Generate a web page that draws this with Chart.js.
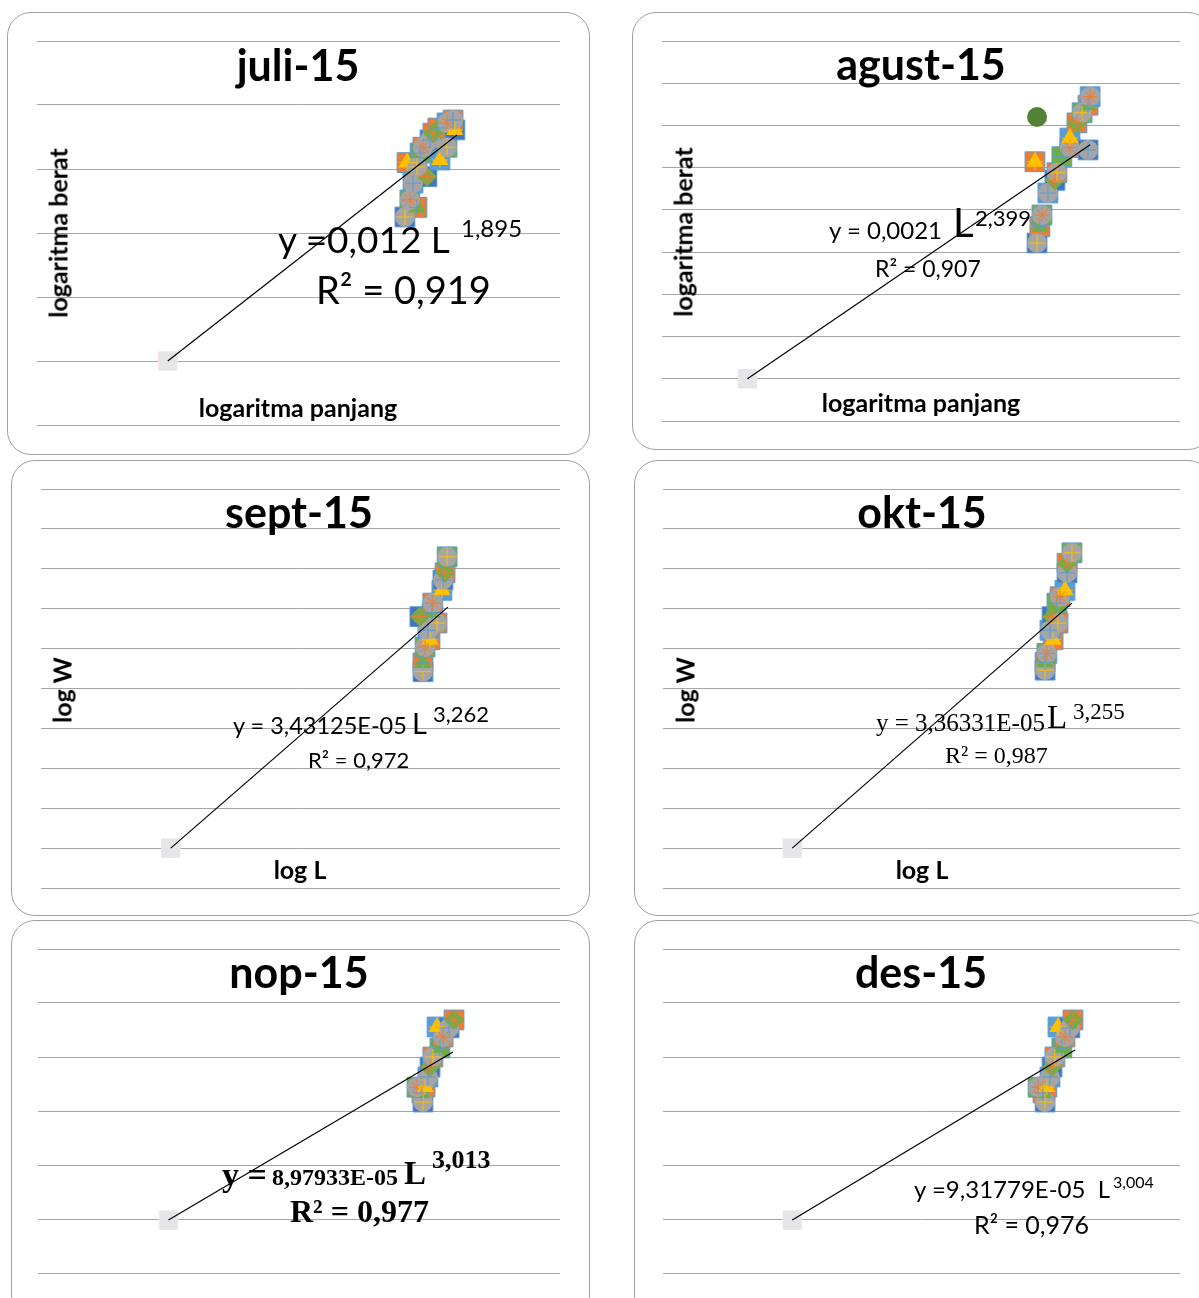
<!DOCTYPE html>
<html>
<head>
<meta charset="utf-8">
<script src="https://cdn.jsdelivr.net/npm/chart.js@4.4.1/dist/chart.umd.min.js"></script>
<style>
body { margin:0; background:#fff; width:1199px; height:1298px; overflow:hidden; position:relative; font-family:Lato, "Open Sans", sans-serif; }
.box { position:absolute; border:1.5px solid #a0a0a0; border-radius:24px; box-sizing:border-box; }
canvas { position:absolute; }
.t { position:absolute; white-space:nowrap; line-height:1; color:#000; }
.c { transform:translate(-50%,-50%); }
.v { transform:translate(-50%,-50%) rotate(-90deg); }
.l { transform:translate(0,-50%); }
.ttl { font-weight:700; font-size:43px; }
.ax { font-weight:700; font-size:25px; }
.sf { font-family:"Liberation Serif", "DejaVu Serif", serif; }
</style>
</head>
<body>
<div class="box" style="left:7px;top:12px;width:583px;height:443px"></div>
<div class="box" style="left:632px;top:12px;width:580px;height:438px"></div>
<div class="box" style="left:11px;top:460px;width:579px;height:456px"></div>
<div class="box" style="left:634px;top:460px;width:578px;height:456px"></div>
<div class="box" style="left:11px;top:920px;width:579px;height:400px"></div>
<div class="box" style="left:634px;top:920px;width:578px;height:400px"></div>

<script>
// log panjang (L) and log berat (W) per month
const juliL = [1.407, 1.453, 1.426, 1.415, 1.438, 1.491, 1.453, 1.465, 1.476, 1.541, 1.503, 1.514, 1.568, 1.533, 1.568, 1.598, 1.591];
const juliW = [1.625, 1.700, 1.758, 2.050, 1.890, 1.940, 2.016, 2.125, 2.170, 2.070, 2.227, 2.280, 2.170, 2.320, 2.360, 2.305, 2.383];
const juliTrendL = [0.50, 1.606];
const juliTrendW = [0.50, 2.266];

const agustL = [1.448, 1.459, 1.467, 1.440, 1.490, 1.517, 1.525, 1.544, 1.575, 1.575, 1.645, 1.602, 1.622, 1.645, 1.653];
const agustW = [2.108, 2.300, 2.440, 3.070, 2.700, 2.850, 2.940, 3.130, 3.240, 3.350, 3.210, 3.530, 3.650, 3.740, 3.840];
const agustOddL = [1.448];
const agustOddW = [3.60];
const agustTrendL = [0.33, 1.653];
const agustTrendW = [0.50, 3.27];

const septL = [1.472, 1.472, 1.480, 1.499, 1.491, 1.460, 1.526, 1.507, 1.510, 1.545, 1.549, 1.557, 1.565];
const septW = [2.710, 2.820, 3.020, 3.110, 3.230, 3.400, 3.320, 3.450, 3.570, 3.730, 3.860, 3.950, 4.150];
const septTrendL = [0.50, 1.568];
const septTrendW = [0.50, 3.52];

const oktL = [1.478, 1.478, 1.485, 1.509, 1.497, 1.505, 1.528, 1.524, 1.536, 1.555, 1.563, 1.563, 1.582];
const oktW = [2.730, 2.830, 2.940, 3.110, 3.230, 3.400, 3.320, 3.570, 3.650, 3.730, 3.950, 4.070, 4.200];
const oktTrendL = [0.50, 1.582];
const oktTrendW = [0.50, 3.57];

const nopL = [1.475, 1.471, 1.452, 1.483, 1.494, 1.502, 1.513, 1.540, 1.552, 1.529, 1.575, 1.594];
const nopW = [1.583, 1.667, 1.720, 1.722, 1.815, 1.907, 2.000, 2.083, 2.185, 2.278, 2.270, 2.343];
const nopTrendL = [0.50, 1.590];
const nopTrendW = [0.49, 2.046];

const desL = [1.478, 1.470, 1.451, 1.485, 1.497, 1.505, 1.516, 1.543, 1.555, 1.528, 1.574, 1.586];
const desW = [1.583, 1.667, 1.720, 1.722, 1.815, 1.907, 2.000, 2.083, 2.185, 2.278, 2.270, 2.343];
const desTrendL = [0.50, 1.594];
const desTrendW = [0.49, 2.065];

// excel-ish marker palette
const backColors = ['#4472C4', '#ED7D31', '#70AD47', '#ED7D31', '#5B9BD5'];
const frontStyles = ['circle', 'triangle', 'circle', 'triangle', 'circle', 'rectRot'];
const frontColors = ['#A5A5A5', '#70AD47', '#A5A5A5', '#FFC000', '#A5A5A5', '#70AD47'];
const crossStyles = ['cross', 'cross', 'star'];
const crossColors = ['#FFC000', '#5B9BD5', '#ED7D31'];

const panels = [
    {left: 37, top: 41, w: 523, h: 384, yMax: 3, L: juliL, W: juliW, tL: juliTrendL, tW: juliTrendW},
    {left: 662, top: 41, w: 518, h: 380, yMax: 4.5, L: agustL, W: agustW, tL: agustTrendL, tW: agustTrendW, oL: agustOddL, oW: agustOddW},
    {left: 41, top: 489, w: 519, h: 399, yMax: 5, L: septL, W: septW, tL: septTrendL, tW: septTrendW},
    {left: 663, top: 489, w: 517, h: 399, yMax: 5, L: oktL, W: oktW, tL: oktTrendL, tW: oktTrendW},
    {left: 38, top: 949, w: 522, h: 324, yMax: 3, L: nopL, W: nopW, tL: nopTrendL, tW: nopTrendW},
    {left: 663, top: 949, w: 517, h: 324, yMax: 3, L: desL, W: desW, tL: desTrendL, tW: desTrendW}
];

function pick(arr) {
    return ctx => arr[ctx.dataIndex % arr.length];
}

function makePanel(p) {
    const cv = document.createElement('canvas');
    cv.width = p.w;
    cv.height = p.h + 40;
    cv.style.left = p.left + 'px';
    cv.style.top = (p.top - 20) + 'px';
    document.body.appendChild(cv);

    const pts = p.L.map((x, i) => ({x: x, y: p.W[i]}));
    const trend = p.tL.map((x, i) => ({x: x, y: p.tW[i]}));

    const datasets = [
        {data: trend, showLine: true, borderColor: '#000', borderWidth: 1.2, pointRadius: 0, clip: false},
        {data: pts, pointStyle: pick(crossStyles), borderColor: pick(crossColors), backgroundColor: 'transparent',
         pointRadius: 8, borderWidth: 1, clip: false},
        {data: pts, pointStyle: pick(frontStyles), backgroundColor: pick(frontColors), borderColor: pick(frontColors),
         pointRadius: 10, borderWidth: 0, clip: false},
        {data: pts, pointStyle: 'rect', backgroundColor: pick(backColors), borderColor: '#5B9BD5',
         pointRadius: 14, borderWidth: 1, clip: false},
        {data: [trend[0]], pointStyle: 'rect', backgroundColor: '#e6e6ea', borderColor: '#efe6dc',
         pointRadius: 13, borderWidth: 1, clip: false}
    ];
    if (p.oL) {
        datasets.push({data: p.oL.map((x, i) => ({x: x, y: p.oW[i]})), pointStyle: 'circle',
            backgroundColor: '#548235', borderWidth: 0, pointRadius: 10, clip: false});
    }

    new Chart(cv, {
        type: 'scatter',
        data: {datasets: datasets},
        options: {
            responsive: false,
            animation: false,
            events: [],
            layout: {autoPadding: false, padding: {top: 20, bottom: 20, left: 0, right: 0}},
            plugins: {legend: {display: false}, tooltip: {enabled: false}},
            scales: {
                x: {type: 'linear', min: 0, max: 2, display: false},
                y: {
                    min: 0, max: p.yMax,
                    ticks: {display: false, stepSize: 0.5},
                    grid: {color: '#a6a6a6', drawTicks: false, lineWidth: 1},
                    border: {display: false}
                }
            }
        }
    });
}

panels.forEach(makePanel);
</script>

<!-- juli -->
<div class="t c ttl" style="left:298px;top:64px">juli-15</div>
<div class="t v ax" style="left:58px;top:233px">logaritma berat</div>
<div class="t c ax" style="left:298px;top:407px">logaritma panjang</div>
<div class="t l" style="left:278px;top:238px;font-size:37px">y =0,012 L</div>
<div class="t l" style="left:461px;top:228px;font-size:24px">1,895</div>
<div class="t l" style="left:316px;top:289px;font-size:38px">R² = 0,919</div>

<!-- agust -->
<div class="t c ttl" style="left:921px;top:63px">agust-15</div>
<div class="t v ax" style="left:683px;top:232px">logaritma berat</div>
<div class="t c ax" style="left:921px;top:402px">logaritma panjang</div>
<div class="t l" style="left:829px;top:230px;font-size:24px">y = 0,0021</div>
<div class="t l" style="left:953px;top:222px;font-size:40px">L</div>
<div class="t l" style="left:975px;top:218px;font-size:22px">2,399</div>
<div class="t l" style="left:875px;top:268px;font-size:23px">R² = 0,907</div>

<!-- sept -->
<div class="t c ttl" style="left:299px;top:511px">sept-15</div>
<div class="t v ax" style="left:62px;top:690px">log W</div>
<div class="t c ax" style="left:300px;top:869px">log L</div>
<div class="t l" style="left:233px;top:726px;font-size:23.5px">y = 3,43125E-05</div>
<div class="t l" style="left:412px;top:722px;font-size:29px">L</div>
<div class="t l" style="left:433px;top:714px;font-size:22px">3,262</div>
<div class="t l" style="left:308px;top:760px;font-size:22px">R² = 0,972</div>

<!-- okt -->
<div class="t c ttl" style="left:922px;top:511px">okt-15</div>
<div class="t v ax" style="left:685px;top:690px">log W</div>
<div class="t c ax" style="left:922px;top:869px">log L</div>
<div class="t l sf" style="left:876px;top:722px;font-size:25px">y = 3,36331E-05</div>
<div class="t l sf" style="left:1047px;top:717px;font-size:33px">L</div>
<div class="t l sf" style="left:1073px;top:711px;font-size:23px">3,255</div>
<div class="t l sf" style="left:945px;top:755px;font-size:24px">R² = 0,987</div>

<!-- nop -->
<div class="t c ttl" style="left:299px;top:971px">nop-15</div>
<div class="t l sf" style="left:222px;top:1175px;font-size:34px;font-weight:700">y =</div>
<div class="t l sf" style="left:272px;top:1177px;font-size:24px;font-weight:700">8,97933E-05</div>
<div class="t l sf" style="left:404px;top:1173px;font-size:33px;font-weight:700">L</div>
<div class="t l sf" style="left:432px;top:1160px;font-size:26px;font-weight:700">3,013</div>
<div class="t l sf" style="left:290px;top:1211px;font-size:32px;font-weight:700">R² = 0,977</div>

<!-- des -->
<div class="t c ttl" style="left:921px;top:971px">des-15</div>
<div class="t l" style="left:914px;top:1189px;font-size:24px">y =9,31779E-05&nbsp;&nbsp;L</div>
<div class="t l" style="left:1113px;top:1182px;font-size:16px">3,004</div>
<div class="t l" style="left:974px;top:1224px;font-size:25px">R² = 0,976</div>
</body>
</html>
